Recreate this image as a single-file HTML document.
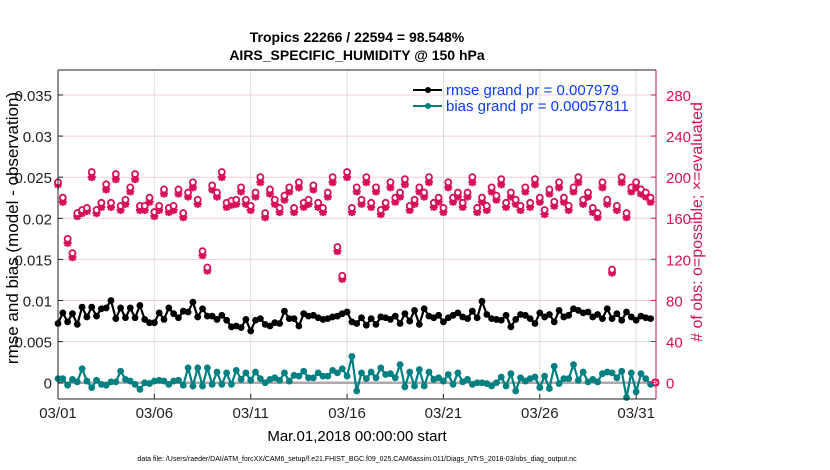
<!DOCTYPE html>
<html><head><meta charset="utf-8"><style>
body{margin:0;background:#fff;}
svg{display:block;font-family:"Liberation Sans",sans-serif;}
</style></head><body>
<svg id="chart" width="830" height="470" viewBox="0 0 830 470">
<text x="357" y="42" text-anchor="middle" font-size="14" font-weight="bold">Tropics 22266 / 22594 = 98.548%</text>
<text x="357" y="60" text-anchor="middle" font-size="14" font-weight="bold">AIRS_SPECIFIC_HUMIDITY @ 150 hPa</text>
<g id="grid"></g>
<g id="marks"></g>
<g id="axes"></g>
<text transform="translate(18,228) rotate(-90)" text-anchor="middle" font-size="17">rmse and bias (model - observation)</text>
<text transform="translate(702,222) rotate(-90)" text-anchor="middle" font-size="16" fill="#d6105a"># of obs: o=possible; ×=evaluated</text>
<text x="357" y="441" text-anchor="middle" font-size="15">Mar.01,2018 00:00:00 start</text>
<text x="357" y="461" text-anchor="middle" font-size="7">data file: /Users/raeder/DAI/ATM_forcXX/CAM6_setup/f.e21.FHIST_BGC.f09_025.CAM6assim.011/Diags_NTrS_2018-03/obs_diag_output.nc</text>
<g>
<line x1="413" y1="90" x2="442" y2="90" stroke="#000" stroke-width="2"/>
<circle cx="428" cy="90" r="3" fill="#000"/>
<text x="446" y="95" font-size="15" fill="#0a3cf0">rmse grand pr = 0.007979</text>
<line x1="413" y1="106" x2="442" y2="106" stroke="#008080" stroke-width="2"/>
<circle cx="428" cy="106" r="3" fill="#008080"/>
<text x="446" y="111" font-size="15" fill="#0a3cf0">bias grand pr = 0.00057811</text>
</g>
</svg>
<script>
const xTickLabels=["03/01","03/06","03/11","03/16","03/21","03/26","03/31"];
const xTickDays=[0,5,10,15,20,25,30];
const leftTicks=[0,0.005,0.01,0.015,0.02,0.025,0.03,0.035];
const leftTickLabels=["0","0.005","0.01","0.015","0.02","0.025","0.03","0.035"];
const rightTicks=[0,40,80,120,160,200,240,280];
const rmse=[.0072,.0085,.0074,.0084,.0071,.0092,.0080,.0092,.0081,.0090,.0091,.0100,.0078,.0091,.0079,.0091,.0079,.0094,.0077,.0073,.0073,.0085,.0077,.0091,.0084,.0079,.0087,.0086,.0098,.0080,.0090,.0081,.0081,.0077,.0082,.0076,.0068,.0069,.0067,.0077,.0063,.0076,.0078,.0071,.0069,.0073,.0072,.0087,.0078,.0078,.0069,.0084,.0081,.0082,.0079,.0077,.0078,.0080,.0081,.0084,.0086,.0074,.0072,.0079,.0070,.0078,.0071,.0080,.0079,.0077,.0081,.0072,.0084,.0075,.0088,.0071,.0090,.0081,.0079,.0082,.0074,.0079,.0082,.0085,.0080,.0078,.0087,.0079,.0099,.0083,.0078,.0077,.0076,.0082,.0068,.0077,.0083,.0082,.0078,.0072,.0085,.0080,.0083,.0074,.0088,.0080,.0082,.0090,.0088,.0085,.0086,.0080,.0083,.0078,.0090,.0078,.0084,.0076,.0086,.0080,.0076,.0081,.0079,.0078];
const bias=[.0005,.0005,-.0003,.0004,.0001,.0017,.0002,-.0006,.0003,-.0002,-.0003,.0001,.0001,.0014,.0004,.0002,-.0002,-.0008,.0000,-.0001,.0002,.0003,.0002,-.0002,.0002,.0003,-.0003,.0018,-.0004,.0018,-.0004,.0018,-.0002,.0013,-.0002,.0012,-.0002,.0015,.0004,.0012,.0003,.0013,.0005,.0000,.0004,.0006,.0003,.0012,.0002,.0009,.0008,.0014,.0006,.0006,.0012,.0008,.0008,.0015,.0012,.0017,.0008,.0032,-.0010,.0012,.0005,.0013,.0006,.0018,.0010,.0011,.0006,.0022,-.0005,.0013,-.0004,.0016,-.0004,.0013,.0004,.0006,.0002,.0010,-.0002,.0012,.0001,.0004,-.0002,.0000,.0000,-.0001,-.0004,.0000,.0007,-.0004,.0011,-.0010,.0006,.0002,.0005,.0007,-.0006,.0008,-.0007,.0020,-.0001,.0005,.0005,.0022,.0003,.0013,.0001,.0004,.0001,.0011,.0013,.0012,.0006,.0014,-.0018,.0012,-.0011,.0011,.0005,-.0002];
const possible=[195,180,140,126,165,168,170,205,168,175,193,175,203,172,178,190,203,172,172,180,166,172,188,170,172,188,165,185,195,178,128,112,192,185,205,175,177,178,190,178,172,185,200,165,188,178,170,182,190,170,195,175,178,192,175,170,185,200,132,104,205,170,190,178,200,175,190,168,175,195,180,185,198,172,178,190,185,200,175,180,170,195,180,185,175,185,200,170,180,172,190,182,198,175,185,178,172,190,175,198,180,168,188,176,195,180,172,190,200,178,185,170,165,195,178,110,172,200,165,190,195,188,185,180,0];
const evaluated=[193,176,136,122,162,165,167,200,165,171,188,171,198,168,174,186,198,168,168,176,162,168,184,166,168,184,161,181,190,174,124,109,188,181,200,171,173,174,186,174,168,181,195,161,184,174,166,178,186,166,190,171,174,188,171,166,181,195,128,101,200,166,186,174,195,171,186,164,171,190,176,181,193,168,174,186,181,195,171,176,166,190,176,181,171,181,195,166,176,168,186,178,193,171,181,174,168,186,171,193,176,164,184,172,190,176,168,186,195,174,181,166,161,190,174,107,168,195,161,186,190,184,181,176,0];
const stepDays=0.25;
const X0=58,X1=656,Y0=70,Y1=399,DMAX=31.03,LMIN=-0.00198,LMAX=0.03804,RMIN=-16,RMAX=304.3;
const red="#d6105a",teal="#008080";
const NS="http://www.w3.org/2000/svg";
const xs=d=>X0+(d/DMAX)*(X1-X0);
const yl=v=>Y1-(v-LMIN)/(LMAX-LMIN)*(Y1-Y0);
const yr=v=>Y1-(v-RMIN)/(RMAX-RMIN)*(Y1-Y0);
function mk(tag,attrs,parent){const e=document.createElementNS(NS,tag);for(const k in attrs)e.setAttribute(k,attrs[k]);parent.appendChild(e);return e;}
const grid=document.getElementById('grid'),marks=document.getElementById('marks'),axes=document.getElementById('axes');
mk('rect',{x:X0,y:Y0,width:X1-X0,height:Y1-Y0,fill:'#fff'},grid);
leftTicks.forEach((v,i)=>{
 const g=mk('line',{x1:X0,x2:X1,y1:yl(v),y2:yl(v),stroke:'#f2cfdc','stroke-width':1},grid);
 
 
 const t=mk('text',{x:X0-6,y:yl(v)+6,'text-anchor':'end','font-size':15,fill:'#222'},axes);
 t.textContent=leftTickLabels[i];
 
 
 mk('line',{x1:X0,x2:X0+5,y1:yl(v),y2:yl(v),stroke:'#222'},axes);
});
xTickDays.forEach((d,i)=>{
 const g=mk('line',{x1:xs(d),x2:xs(d),y1:Y0,y2:Y1,stroke:'#ddd','stroke-width':1},grid);
 
 
 mk('line',{x1:xs(d),x2:xs(d),y1:Y1,y2:Y1-5,stroke:'#222'},axes);
 const t=mk('text',{x:xs(d),y:Y1+19,'text-anchor':'middle','font-size':15,fill:'#222'},axes);
 t.textContent=xTickLabels[i];
 
 
});
rightTicks.forEach(v=>{
 mk('line',{x1:X1,x2:X1-5,y1:yr(v),y2:yr(v),stroke:red},axes);
 const t=mk('text',{x:X1+10,y:yr(v)+6,'font-size':15,fill:red},axes);
 t.textContent=String(v);
 
 
});
const zl=mk('line',{x1:X0,x2:X1,y1:yl(0),y2:yl(0),stroke:'#b0a8ae','stroke-width':2.5},grid);


mk('line',{x1:X0,x2:X0,y1:Y0,y2:Y1,stroke:'#222'},axes);
mk('line',{x1:X0,x2:X1,y1:Y1,y2:Y1,stroke:'#222'},axes);
mk('line',{x1:X0,x2:X1,y1:Y0,y2:Y0,stroke:'#222'},axes);
mk('line',{x1:X1,x2:X1,y1:Y0,y2:Y1,stroke:red},axes);
const gObs=mk('g',{},marks);
possible.forEach((c,i)=>{
 const x=xs(i*stepDays);
 const y2=yr(evaluated[i]);
 const a=mk('path',{d:`M${x-4},${y2}H${x+4}M${x},${y2-4}V${y2+4}M${x-3},${y2-3}L${x+3},${y2+3}M${x-3},${y2+3}L${x+3},${y2-3}`,stroke:red,'stroke-width':2.2,fill:'none'},gObs);
 
 
 const p=mk('circle',{cx:x,cy:yr(c),r:3,fill:'#fff',stroke:red,'stroke-width':1.8},gObs);
 
 
});
function series(vals,color,name){
 const pts=vals.map((v,i)=>xs(i*stepDays).toFixed(1)+','+yl(v).toFixed(1)).join(' ');
 const pl=mk('polyline',{points:pts,fill:'none',stroke:color,'stroke-width':2.2},marks);
 
 
 vals.forEach((v,i)=>{
  const c=mk('circle',{cx:xs(i*stepDays),cy:yl(v),r:3.4,fill:color},marks);
  
  
 });
}
series(bias,teal,'bias');
series(rmse,'#000','rmse');
</script>
</body></html>
